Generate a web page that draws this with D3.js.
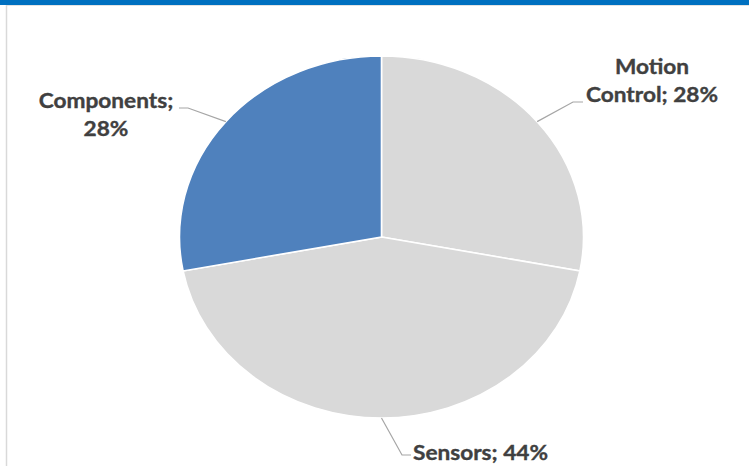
<!DOCTYPE html>
<html>
<head>
<meta charset="utf-8">
<script src="https://cdn.jsdelivr.net/npm/d3@7/dist/d3.min.js"></script>
<style>
  html, body { margin: 0; padding: 0; background: #fff; }
  svg { display: block; }
</style>
</head>
<body>
<div id="chart"></div>
<script>
const categories = ["Motion Control", "Sensors", "Components"];
const values = [28, 44, 28];
const sliceColors = ["#d9d9d9", "#d9d9d9", "#4f81bd"];
const labelLines = [["Motion", "Control; 28%"], ["Sensors; 44%"], ["Components;", "28%"]];

const W = 749, H = 466;
const cx = 381.5, cy = 237, r = 181, sx = 1.116;

// label layout: anchor point, text alignment, leader elbow and end
const labelPos = [
  { x: 652, y: 74, anchor: "middle", elbow: [573, 102], end: [583, 102] },
  { x: 413, y: 460, anchor: "start", elbow: [402, 455], end: [411, 455] },
  { x: 106, y: 108, anchor: "middle", elbow: [188, 108], end: [179, 108] },
];

const svg = d3.select("#chart").append("svg")
  .attr("width", W).attr("height", H);

// frame: blue top band and light border
svg.append("rect").attr("x", 0).attr("y", 0).attr("width", W).attr("height", 5).attr("fill", "#0070c0");
svg.append("line").attr("x1", 6).attr("x2", W).attr("y1", 5.5).attr("y2", 5.5)
  .attr("stroke", "#e3e3e3").attr("stroke-width", 1);
svg.append("line").attr("x1", 6.5).attr("x2", 6.5).attr("y1", 5).attr("y2", H)
  .attr("stroke", "#d9d9d9").attr("stroke-width", 1.5);

const data = categories.map((c, i) => ({ name: c, value: values[i], color: sliceColors[i] }));

const pie = d3.pie().value(d => d.value).sort(null);
const arc = d3.arc().innerRadius(0).outerRadius(r);
const arcs = pie(data);

const g = svg.append("g").attr("transform", `translate(${cx},${cy}) scale(${sx},1)`);
g.selectAll("path").data(arcs).join("path")
  .attr("d", arc)
  .attr("fill", d => d.data.color)
  .attr("stroke", "#fff")
  .attr("stroke-width", 1.6)
  .attr("vector-effect", "non-scaling-stroke");

// leader lines start on the outer edge at each slice's mid angle
arcs.forEach((a, i) => {
  const mid = (a.startAngle + a.endAngle) / 2;
  const p0 = [cx + Math.sin(mid) * r * sx, cy - Math.cos(mid) * r];
  const lp = labelPos[i];
  svg.append("polyline")
    .attr("points", [p0, lp.elbow, lp.end].map(p => p.join(",")).join(" "))
    .attr("fill", "none").attr("stroke", "#a6a6a6").attr("stroke-width", 1.2);
});

labelLines.forEach((lines, i) => {
  const lp = labelPos[i];
  const t = svg.append("text")
    .attr("text-anchor", lp.anchor)
    .attr("font-family", "Lato, 'Open Sans', sans-serif")
    .attr("font-weight", 700).attr("font-size", 20.3)
    .attr("fill", "#404040")
    .attr("stroke", "#404040").attr("stroke-width", 0.35)
    .attr("transform", `translate(${lp.x},${lp.y}) scale(${sx},1)`);
  lines.forEach((s, j) => {
    t.append("tspan").attr("x", 0).attr("y", j * 28).text(s);
  });
});
</script>
</body>
</html>
